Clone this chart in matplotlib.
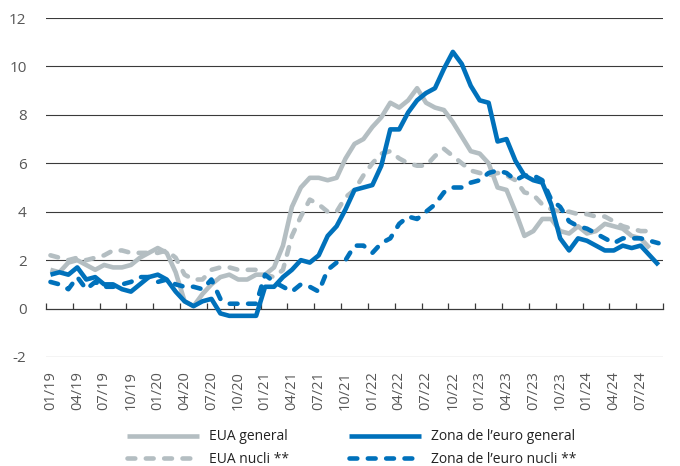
import numpy as np
import matplotlib
matplotlib.use("Agg")
import matplotlib.pyplot as plt
from matplotlib.lines import Line2D

plt.rcParams['font.family'] = ['Open Sans', 'DejaVu Sans']

# Monthly data, Jan 2019 - Sep 2024 (year-on-year %, US series end Aug 2024)
months = [f"{m:02d}/{y % 100:02d}" for y in range(2019, 2025) for m in range(1, 13)][:69]

us_general = [1.6, 1.5, 1.9, 2.0, 1.8, 1.6, 1.8, 1.7, 1.7, 1.8, 2.1, 2.3,
              2.5, 2.3, 1.5, 0.3, 0.1, 0.6, 1.0, 1.3, 1.4, 1.2, 1.2, 1.4,
              1.4, 1.7, 2.6, 4.2, 5.0, 5.4, 5.4, 5.3, 5.4, 6.2, 6.8, 7.0,
              7.5, 7.9, 8.5, 8.3, 8.6, 9.1, 8.5, 8.3, 8.2, 7.7, 7.1, 6.5,
              6.4, 6.0, 5.0, 4.9, 4.0, 3.0, 3.2, 3.7, 3.7, 3.2, 3.1, 3.4,
              3.1, 3.2, 3.5, 3.4, 3.3, 3.0, 2.9, 2.5, np.nan]

us_core = [2.2, 2.1, 2.0, 2.1, 2.0, 2.1, 2.2, 2.4, 2.4, 2.3, 2.3, 2.3,
           2.3, 2.4, 2.1, 1.4, 1.2, 1.2, 1.6, 1.7, 1.7, 1.6, 1.6, 1.6,
           1.4, 1.3, 1.6, 3.0, 3.8, 4.5, 4.3, 4.0, 4.0, 4.6, 4.9, 5.5,
           6.0, 6.4, 6.5, 6.2, 6.0, 5.9, 5.9, 6.3, 6.6, 6.3, 6.0, 5.7,
           5.6, 5.5, 5.6, 5.5, 5.3, 4.8, 4.7, 4.3, 4.1, 4.0, 4.0, 3.9,
           3.9, 3.8, 3.8, 3.6, 3.4, 3.3, 3.2, 3.2, np.nan]

ea_general = [1.4, 1.5, 1.4, 1.7, 1.2, 1.3, 1.0, 1.0, 0.8, 0.7, 1.0, 1.3,
              1.4, 1.2, 0.7, 0.3, 0.1, 0.3, 0.4, -0.2, -0.3, -0.3, -0.3, -0.3,
              0.9, 0.9, 1.3, 1.6, 2.0, 1.9, 2.2, 3.0, 3.4, 4.1, 4.9, 5.0,
              5.1, 5.9, 7.4, 7.4, 8.1, 8.6, 8.9, 9.1, 9.9, 10.6, 10.1, 9.2,
              8.6, 8.5, 6.9, 7.0, 6.1, 5.5, 5.3, 5.2, 4.3, 2.9, 2.4, 2.9,
              2.8, 2.6, 2.4, 2.4, 2.6, 2.5, 2.6, 2.2, 1.8]

ea_core = [1.1, 1.0, 0.8, 1.3, 0.8, 1.1, 0.9, 0.9, 1.0, 1.1, 1.3, 1.3,
           1.1, 1.2, 1.0, 0.9, 0.9, 0.8, 1.2, 0.4, 0.2, 0.2, 0.2, 0.2,
           1.4, 1.1, 0.9, 0.7, 1.0, 0.9, 0.7, 1.6, 1.9, 2.0, 2.6, 2.6,
           2.3, 2.7, 2.9, 3.5, 3.8, 3.7, 4.0, 4.3, 4.8, 5.0, 5.0, 5.2,
           5.3, 5.6, 5.7, 5.6, 5.3, 5.5, 5.5, 5.3, 4.5, 4.2, 3.6, 3.4,
           3.3, 3.1, 2.9, 2.7, 2.9, 2.9, 2.9, 2.8, 2.7]

labels = ["EUA general", "EUA nucli **", "Zona de l\u2019euro general", "Zona de l\u2019euro nucli **"]
yticks = [-2, 0, 2, 4, 6, 8, 10, 12]

GRAY = '#b4bec2'
BLUE = '#0071bb'
TXT = '#575757'
GRID = '#3a3a3a'

fig = plt.figure(figsize=(6.8, 4.66), dpi=100)
ax = fig.add_axes([46/680, 1-357/466, (663-46)/680, (357-18)/466])

n = len(months)
x = np.arange(n) + 0.5
LW = 3.3

series = [(us_general, GRAY, False), (us_core, GRAY, True),
          (ea_general, BLUE, False), (ea_core, BLUE, True)]
handles = []
for (vals, col, dashed), lab in zip(series, labels):
    ln, = ax.plot(x, vals, color=col, lw=LW, solid_joinstyle='round',
                  solid_capstyle='butt', dash_capstyle='round',
                  dash_joinstyle='round', label=lab, zorder=3)
    if dashed:
        ln.set_dashes([1.7, 2.3])
    handles.append(ln)

ax.set_xlim(0, n)
ax.set_ylim(-2, 12)
for s in ['top', 'right', 'left']:
    ax.spines[s].set_visible(False)
ax.spines['bottom'].set_position(('data', 0))
ax.spines['bottom'].set_color(GRID)
ax.spines['bottom'].set_linewidth(0.9)
ax.set_xticks(np.arange(0, n + 1, 3))
ax.tick_params(axis='x', direction='in', length=4, width=0.9, color=GRID,
               labelbottom=False)
for yv in yticks:
    if yv != 0:
        ax.axhline(yv, color=GRID, lw=0.8, zorder=1)

ax.set_yticks(yticks)
ax.set_yticklabels([str(v) for v in yticks])
ax.tick_params(axis='y', length=0, pad=14, labelsize=11, labelcolor=TXT)

sec = ax.secondary_xaxis(0)
sec.set_xticks(x[::3])
sec.set_xticklabels(months[::3], rotation=90, fontsize=10.5, color=TXT)
sec.tick_params(length=0, pad=10)
sec.spines['bottom'].set_visible(False)

fig.legend(handles=handles, labels=labels, ncol=2, loc='center',
           bbox_to_anchor=(0.517, 0.038), frameon=False, fontsize=10,
           handlelength=5.2, handletextpad=0.7, columnspacing=4.3,
           labelspacing=0.55, labelcolor='#222222', borderpad=0)

fig.savefig('out.png', dpi=100)
